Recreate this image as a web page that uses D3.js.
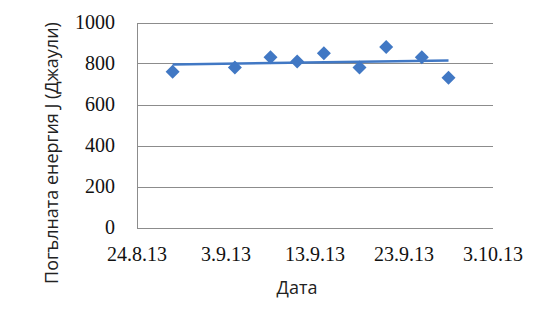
<!DOCTYPE html>
<html>
<head>
<meta charset="utf-8">
<script src="https://d3js.org/d3.v7.min.js"></script>
<style>
    body { margin: 0; background: #fff; }
    svg text.serif { font-family: "Times New Roman", "Liberation Serif", "DejaVu Serif", serif; }
</style>
</head>
<body>
<svg id="chart" width="560" height="320"></svg>
<script>
    // Data
    var dates = ["2013-08-28", "2013-09-04", "2013-09-08", "2013-09-11", "2013-09-14",
                 "2013-09-18", "2013-09-21", "2013-09-25", "2013-09-28"];
    var energy = [760, 780, 830, 810, 850, 780, 880, 830, 730];
    var yTicks = [0, 200, 400, 600, 800, 1000];
    var xTicks = ["2013-08-24", "2013-09-03", "2013-09-13", "2013-09-23", "2013-10-03"];

    var parse = d3.timeParse("%Y-%m-%d");
    var fmt = d3.timeFormat("%-d.%-m.%y");

    var points = dates.map(function(d, i) {
        return { time: parse(d), value: energy[i] };
    });
    var xTickDates = xTicks.map(parse);

    var svg = d3.select("#chart");
    var color = "#4178c4";
    var sans = "'Open Sans', 'DejaVu Sans', sans-serif";

    // Scales
    var x = d3.scaleTime()
        .domain([xTickDates[0], xTickDates[xTickDates.length - 1]])
        .range([137, 493]);
    var y = d3.scaleLinear()
        .domain([0, 1000])
        .range([227.5, 22.5]);

    // Grid lines
    svg.append("g")
        .selectAll("line")
        .data(yTicks)
        .enter()
        .append("line")
        .attr("x1", x.range()[0])
        .attr("x2", x.range()[1])
        .attr("y1", function(d) { return Math.round(y(d)) + 0.5; })
        .attr("y2", function(d) { return Math.round(y(d)) + 0.5; })
        .attr("stroke", "#8c8c8c")
        .attr("stroke-width", 1);

    // Left axis line
    svg.append("line")
        .attr("x1", x.range()[0] + 0.5)
        .attr("x2", x.range()[0] + 0.5)
        .attr("y1", Math.round(y(1000)) + 0.5)
        .attr("y2", Math.round(y(0)) + 0.5)
        .attr("stroke", "#8c8c8c");

    // Y tick labels
    svg.append("g")
        .selectAll("text")
        .data(yTicks)
        .enter()
        .append("text")
        .attr("class", "serif")
        .attr("font-size", 20)
        .attr("fill", "#111")
        .attr("x", x.range()[0] - 22)
        .attr("y", function(d) { return y(d) + 6.5; })
        .attr("text-anchor", "end")
        .text(function(d) { return d; });

    // X tick labels
    svg.append("g")
        .selectAll("text")
        .data(xTickDates)
        .enter()
        .append("text")
        .attr("class", "serif")
        .attr("font-size", 20)
        .attr("fill", "#111")
        .attr("x", function(d) { return x(d); })
        .attr("y", 261)
        .attr("text-anchor", "middle")
        .text(function(d) { return fmt(d); });

    // Linear trend line (least squares over the points)
    var days = points.map(function(p) { return (p.time - xTickDates[0]) / 864e5; });
    var mx = d3.mean(days), my = d3.mean(energy);
    var sxy = d3.sum(days, function(d, i) { return (d - mx) * (energy[i] - my); });
    var sxx = d3.sum(days, function(d) { return (d - mx) * (d - mx); });
    var slope = sxy / sxx;
    var trend = [points[0], points[points.length - 1]].map(function(p) {
        var dd = (p.time - xTickDates[0]) / 864e5;
        return { time: p.time, value: my + slope * (dd - mx) };
    });

    var trendLine = d3.line()
        .x(function(d) { return x(d.time); })
        .y(function(d) { return y(d.value); });

    svg.append("path")
        .datum(trend)
        .attr("d", trendLine)
        .attr("fill", "none")
        .attr("stroke", color)
        .attr("stroke-width", 2.5);

    // Diamond markers
    var diamond = d3.symbol().type(d3.symbolSquare).size(98);
    svg.append("g")
        .selectAll("path")
        .data(points)
        .enter()
        .append("path")
        .attr("d", diamond)
        .attr("transform", function(d) {
            return "translate(" + x(d.time) + "," + y(d.value) + ") rotate(45)";
        })
        .attr("fill", color);

    // Axis titles
    svg.append("text")
        .style("font-family", sans)
        .style("font-size", "18px")
        .attr("fill", "#222")
        .attr("x", 297)
        .attr("y", 294)
        .attr("text-anchor", "middle")
        .text("Дата");

    svg.append("text")
        .style("font-family", sans)
        .style("font-size", "18px")
        .attr("fill", "#222")
        .attr("transform", "translate(58,153) rotate(-90)")
        .attr("text-anchor", "middle")
        .text("Погълната енергия  J (Джаули)");
</script>
</body>
</html>
